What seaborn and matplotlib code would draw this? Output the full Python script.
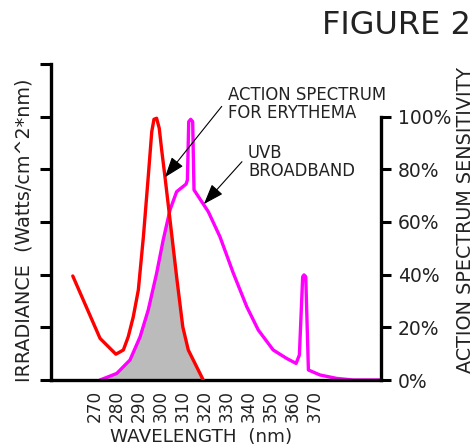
import numpy as np
import pandas as pd
import matplotlib
matplotlib.use("Agg")
import matplotlib.pyplot as plt
import seaborn as sns

# ---- data ----
ery_wl = [259.9, 272.3, 279.5, 282.9, 285.1, 287.4, 289.7, 292.0, 294.2, 295.8,
          296.8, 298.0, 299.2, 300.3, 301.8, 304.1, 307.1, 309.9, 312.4, 319.2]
ery_val = [39.5, 15.8, 9.8, 11.4, 16.4, 24.0, 34.2, 54.4, 77.2, 94.3,
           99.0, 99.4, 95.6, 87.4, 77.2, 60.8, 39.2, 20.2, 11.4, 0.0]

uvb_wl = [272.3, 279.9, 285.9, 290.5, 294.2, 298.0, 301.0, 304.1, 307.1, 311.4,
          312.0, 312.6, 313.5, 314.4, 315.0, 321.5, 326.8, 332.9, 339.0, 344.2,
          351.0, 357.1, 361.4, 362.9, 364.4, 365.0, 365.8, 367.0, 372.3, 379.9,
          387.4, 399.5]
uvb_val = [0.0, 2.5, 7.6, 16.4, 26.6, 40.5, 53.2, 64.6, 71.5, 74.4,
           76.0, 98.1, 99.0, 98.1, 72.2, 63.9, 54.4, 40.5, 27.8, 19.0,
           11.4, 8.2, 6.3, 9.5, 39.2, 39.9, 39.2, 3.8, 1.9, 0.6,
           0.0, 0.0]

x_ticks = list(range(250, 401, 10))
x_tick_labels = [str(t) if 270 <= t <= 370 else "" for t in x_ticks]
right_ticks = [0, 20, 40, 60, 80, 100]
right_tick_labels = ["0%", "20%", "40%", "60%", "80%", "100%"]

sns.set_style("white")
plt.rcParams["font.family"] = ["DejaVu Sans"]
TXT = "#222222"

fig = plt.figure(figsize=(4.75, 4.45), dpi=100)
ax = fig.add_axes([51 / 475, 1 - 380 / 445, 330 / 475, 316 / 445])

df_e = pd.DataFrame({"wl": ery_wl, "val": ery_val})
df_u = pd.DataFrame({"wl": uvb_wl, "val": uvb_val})

# shaded overlap (under the lower of the two curves)
grid = np.linspace(max(min(ery_wl), min(uvb_wl)), max(ery_wl), 400)
low = np.minimum(np.interp(grid, ery_wl, ery_val), np.interp(grid, uvb_wl, uvb_val))
ax.fill_between(grid, 0, low, color="#bbbbbb", lw=0, zorder=1)

sns.lineplot(data=df_e, x="wl", y="val", ax=ax, color="#ff0000", lw=2.4,
             sort=False, estimator=None, zorder=3)
sns.lineplot(data=df_u, x="wl", y="val", ax=ax, color="#ff00ff", lw=2.4,
             sort=False, estimator=None, zorder=2)

ax.set_xlim(250, 400)
ax.set_ylim(0, 120)
ax.set_xlabel("")
ax.set_ylabel("")
ax.set_xticks(x_ticks)
ax.set_xticklabels(x_tick_labels, rotation=90, fontsize=12.2, color=TXT)
ax.set_yticks([0, 20, 40, 60, 80, 100, 120])
ax.set_yticklabels([])
ax.tick_params(axis="x", direction="out", length=6, width=2.2, pad=1, color="black")
ax.tick_params(axis="y", direction="out", length=8, width=2.2, color="black")
for s in ["top", "right"]:
    ax.spines[s].set_visible(False)
for s in ["left", "bottom"]:
    ax.spines[s].set_linewidth(2.4)
    ax.spines[s].set_color("black")
ax.set_facecolor("white")

ax2 = ax.twinx()
ax2.set_ylim(0, 120)
ax2.set_yticks(right_ticks)
ax2.set_yticklabels(right_tick_labels, fontsize=13.5, color=TXT)
ax2.tick_params(axis="y", direction="out", length=7, width=2.2, pad=5, color="black")
for s in ["top", "left", "bottom"]:
    ax2.spines[s].set_visible(False)
ax2.spines["right"].set_bounds(0, 100)
ax2.spines["right"].set_linewidth(2.4)
ax2.spines["right"].set_color("black")
ax2.grid(False)

# annotations
arrow = dict(arrowstyle="-|>,head_length=0.7,head_width=0.25", color="black",
             lw=0.8, mutation_scale=18, shrinkA=0, shrinkB=0)
ax.annotate("", xy=(301.8, 77.0), xytext=(327.6, 103.9), arrowprops=arrow, zorder=5)
ax.text(330.5, 111.8, "ACTION SPECTRUM\nFOR ERYTHEMA", fontsize=11.9, color=TXT,
        ha="left", va="top", linespacing=1.05)
ax.annotate("", xy=(319.5, 66.8), xytext=(336.8, 82.9), arrowprops=arrow, zorder=5)
ax.text(339.5, 89.8, "UVB\nBROADBAND", fontsize=11.9, color=TXT,
        ha="left", va="top", linespacing=1.05)

# titles and axis labels
fig.text(471 / 475, 1 - 34 / 445, "FIGURE 2", fontsize=23, color=TXT,
         ha="right", va="baseline")
fig.text(24 / 475, 1 - 230 / 445, "IRRADIANCE  (Watts/cm^2*nm)", fontsize=13.8,
         color=TXT, rotation=90, ha="center", va="center")
fig.text(475 / 475, 1 - 220 / 445, "ACTION SPECTRUM SENSITIVITY", fontsize=13.8,
         color=TXT, rotation=90, ha="right", va="center")
fig.text(201 / 475, 1 - 441.5 / 445, "WAVELENGTH  (nm)", fontsize=13.2, color=TXT,
         ha="center", va="baseline")

fig.savefig("out.png", dpi=100, facecolor="white")
